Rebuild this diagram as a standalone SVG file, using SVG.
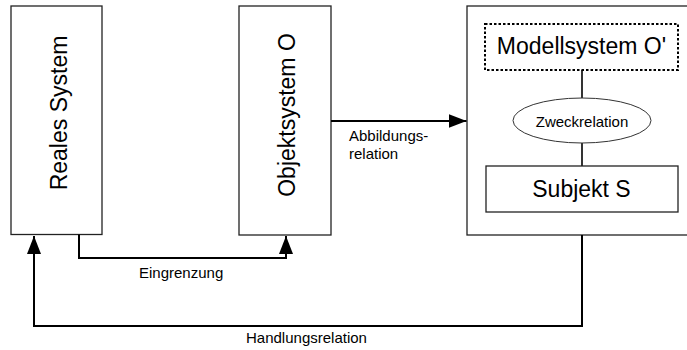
<svg xmlns="http://www.w3.org/2000/svg" width="687" height="350" viewBox="0 0 687 350">
  <style>
    .box { fill: #ffffff; stroke: #222222; stroke-width: 1.3; }
    .dotted { fill: #ffffff; stroke: #000000; stroke-width: 2; stroke-dasharray: 2.5 2; }
    .wire { fill: none; stroke: #000000; stroke-width: 2; }
    .link { fill: none; stroke: #000000; stroke-width: 1.6; }
    .oval { fill: #ffffff; stroke: #333333; stroke-width: 1; }
    text { font-family: "Liberation Sans", Arial, sans-serif; fill: #000000; }
    .big { font-size: 23px; text-anchor: middle; }
    .small { font-size: 15px; }
    .mid { text-anchor: middle; }
  </style>
  <defs>
    <marker id="arrow" viewBox="0 0 18 14" refX="18" refY="7" markerWidth="18" markerHeight="14" markerUnits="userSpaceOnUse" orient="auto">
      <path d="M0,0 L18,7 L0,14 Z" fill="#000000"/>
    </marker>
  </defs>

  <!-- system boxes -->
  <g id="reales-system">
    <rect class="box" x="11" y="6" width="91" height="228.5"/>
    <text class="big" transform="translate(67,113) rotate(-90)">Reales System</text>
  </g>

  <g id="objektsystem">
    <rect class="box" x="239" y="6" width="92" height="229"/>
    <text class="big" transform="translate(295,115) rotate(-90)">Objektsystem O</text>
  </g>

  <g id="modellbildung">
    <rect class="box" x="467" y="6" width="232" height="229"/>
  </g>

  <g id="modellsystem">
    <rect class="dotted" x="485" y="24" width="193" height="46"/>
    <text class="big" x="581.5" y="54">Modellsystem O'</text>
  </g>

  <g id="zweckrelation">
    <line class="link" x1="582" y1="70" x2="582" y2="98"/>
    <line class="link" x1="582" y1="143" x2="582" y2="166"/>
    <ellipse class="oval" cx="582" cy="120.5" rx="69" ry="22.5"/>
    <text class="small mid" x="582" y="127">Zweckrelation</text>
  </g>

  <g id="subjekt">
    <rect class="box" x="486" y="166" width="192" height="46"/>
    <text class="big" x="581.5" y="197">Subjekt S</text>
  </g>

  <!-- connectors -->
  <g id="connectors">
    <line class="wire" x1="331" y1="121" x2="466.5" y2="121" marker-end="url(#arrow)"/>
    <path class="wire" d="M79,234.5 V258 H286 V236" marker-end="url(#arrow)"/>
    <path class="wire" d="M582,235 V326 H34 V236" marker-end="url(#arrow)"/>
  </g>

  <!-- connector labels -->
  <g id="labels">
    <text class="small" x="349" y="141">Abbildungs-</text>
    <text class="small" x="349" y="159">relation</text>
    <text class="small" x="139" y="278">Eingrenzung</text>
    <text class="small" x="246" y="343">Handlungsrelation</text>
  </g>
</svg>
